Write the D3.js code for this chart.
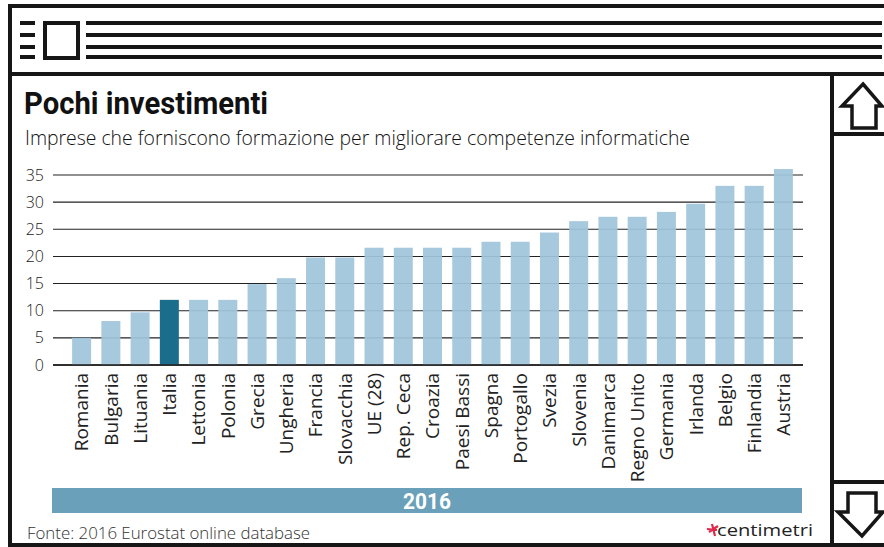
<!DOCTYPE html>
<html><head><meta charset="utf-8">
<script src="https://cdn.jsdelivr.net/npm/d3@7"></script>
<style>html,body{margin:0;padding:0;background:#fff;}svg{display:block;}</style>
</head><body>
<script>
const categories = ["Romania","Bulgaria","Lituania","Italia","Lettonia","Polonia","Grecia","Ungheria","Francia","Slovacchia","UE (28)","Rep. Ceca","Croazia","Paesi Bassi","Spagna","Portogallo","Svezia","Slovenia","Danimarca","Regno Unito","Germania","Irlanda","Belgio","Finlandia","Austria"];
const values = [5.0, 8.1, 9.7, 12.0, 12.0, 12.0, 14.9, 16.0, 19.8, 19.8, 21.6, 21.6, 21.6, 21.6, 22.7, 22.7, 24.4, 26.5, 27.3, 27.3, 28.2, 29.7, 33.0, 33.0, 36.1];
const highlight = ["Italia"];
const yTicks = [0, 5, 10, 15, 20, 25, 30, 35];
const title = "Pochi investimenti";
const subtitle = "Imprese che forniscono formazione per migliorare competenze informatiche";
const yearLabel = "2016";
const source = "Fonte: 2016 Eurostat online database";
const brand = "centimetri";

const W = 884, H = 547;
const svg = d3.select("body").append("svg").attr("width", W).attr("height", H);

// ---- frame decoration ----
const ink = "#161616";
const frame = svg.append("g");
frame.append("rect").attr("x",8).attr("y",4).attr("width",W).attr("height",4).attr("fill",ink);
frame.append("rect").attr("x",8).attr("y",4).attr("width",4).attr("height",H).attr("fill",ink);
frame.append("rect").attr("x",8).attr("y",543).attr("width",W).attr("height",4).attr("fill",ink);
frame.append("rect").attr("x",8).attr("y",72).attr("width",W).attr("height",4).attr("fill",ink);
frame.append("rect").attr("x",830).attr("y",72).attr("width",4).attr("height",H).attr("fill",ink);
frame.append("rect").attr("x",834).attr("y",132).attr("width",60).attr("height",4).attr("fill",ink);
frame.append("rect").attr("x",834).attr("y",480).attr("width",60).attr("height",4).attr("fill",ink);
// header icon
[23,35,47,57].forEach(y => {
  frame.append("rect").attr("x",20).attr("y",y-2).attr("width",15).attr("height",4).attr("fill",ink);
  frame.append("rect").attr("x",86).attr("y",y-2).attr("width",796).attr("height",4).attr("fill",ink);
});
frame.append("rect").attr("x",45).attr("y",23).attr("width",33).attr("height",35)
  .attr("fill","#fff").attr("stroke",ink).attr("stroke-width",4);
// arrows
frame.append("path").attr("d","M863,84 L882,106 L876,106 L876,128 L852,128 L852,106 L842,106 Z")
  .attr("fill","#fff").attr("stroke",ink).attr("stroke-width",3.5).attr("stroke-linejoin","miter");
frame.append("path").attr("d","M848,493 L876,493 L876,512 L883,512 L862,536 L838,512 L848,512 Z")
  .attr("fill","#fff").attr("stroke",ink).attr("stroke-width",3.5).attr("stroke-linejoin","miter");

// ---- titles ----
svg.append("text").attr("x",24).attr("y",114).text(title)
  .attr("font-family","Roboto, 'Open Sans', sans-serif").attr("font-weight",700).attr("font-size",32)
  .attr("fill","#111").attr("textLength",244).attr("lengthAdjust","spacingAndGlyphs");
svg.append("text").attr("x",25).attr("y",145).text(subtitle)
  .attr("font-family","'Open Sans', sans-serif").attr("font-weight",300).attr("font-size",21)
  .attr("fill","#111").attr("textLength",665).attr("lengthAdjust","spacingAndGlyphs");

// ---- chart ----
const x = d3.scaleBand().domain(categories).range([67, 798]).paddingInner(0.35).paddingOuter(0.175);
const y = d3.scaleLinear().domain([0, 35]).range([365, 175]);

const grid = svg.append("g");
grid.selectAll("line").data(yTicks).join("line")
  .attr("x1",53).attr("x2",803).attr("y1",d=>y(d)).attr("y2",d=>y(d))
  .attr("stroke","#222").attr("stroke-width",d=>d===0?1.6:1.1);

const yAxis = d3.axisLeft(y).tickValues(yTicks).tickSize(0).tickPadding(0);
const ya = svg.append("g").attr("transform","translate(44,0)").call(yAxis);
ya.select(".domain").remove();
ya.selectAll("text").attr("font-family","'Open Sans', sans-serif").attr("font-weight",300)
  .attr("font-size",16).attr("fill","#222");

svg.append("g").selectAll("rect").data(categories).join("rect")
  .attr("x",d=>x(d)).attr("width",x.bandwidth())
  .attr("y",(d,i)=>y(values[i])).attr("height",(d,i)=>y(0)-y(values[i]))
  .attr("fill",d=>highlight.includes(d)?"#1b6e8b":"#a0c5dc").attr("fill-opacity",d=>highlight.includes(d)?1:0.93);

// redraw baseline over bars
svg.append("line").attr("x1",53).attr("x2",803).attr("y1",y(0)).attr("y2",y(0))
  .attr("stroke","#222").attr("stroke-width",1.6);

const xAxis = d3.axisBottom(x).tickSize(0).tickPadding(0);
const xa = svg.append("g").attr("transform","translate(0,373)").call(xAxis);
xa.select(".domain").remove();
xa.selectAll("text")
  .attr("transform","rotate(-90)").attr("text-anchor","end")
  .attr("x",0).attr("y",0).attr("dy","0.36em")
  .attr("font-family","'Open Sans', sans-serif").attr("font-weight",400)
  .attr("font-size",19).attr("fill","#222");

// ---- year band ----
svg.append("rect").attr("x",52).attr("y",488).attr("width",750).attr("height",25).attr("fill","#6aa0b9");
svg.append("text").attr("x",427).attr("y",509).attr("text-anchor","middle").text(yearLabel)
  .attr("font-family","Roboto, sans-serif").attr("font-weight",700).attr("font-size",22)
  .attr("fill","#fff").attr("textLength",48).attr("lengthAdjust","spacingAndGlyphs");

// ---- footer ----
svg.append("text").attr("x",27).attr("y",539).text(source)
  .attr("font-family","'Open Sans', sans-serif").attr("font-weight",300).attr("font-size",16)
  .attr("fill","#333").attr("textLength",283).attr("lengthAdjust","spacingAndGlyphs");
svg.append("path").attr("d","M709,532 L718,526 M712,524 L715,536 M707,529 L717,530")
  .attr("stroke","#e0284a").attr("stroke-width",2.2).attr("fill","none");
svg.append("text").attr("x",717).attr("y",536).text(brand)
  .attr("font-family","'Open Sans', sans-serif").attr("font-weight",500).attr("font-size",17)
  .attr("fill","#222").attr("textLength",96).attr("lengthAdjust","spacingAndGlyphs");
</script>
</body></html>
